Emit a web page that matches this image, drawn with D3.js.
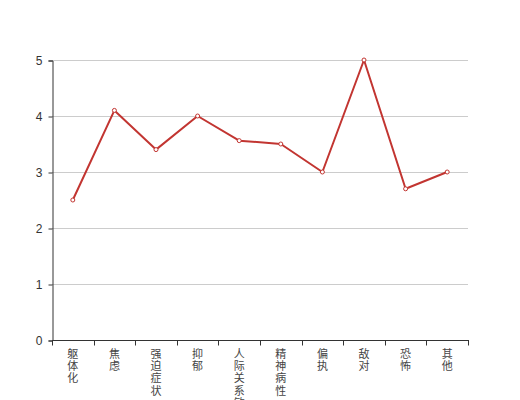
<!DOCTYPE html>
<html>
<head>
<meta charset="utf-8">
<script src="https://cdn.jsdelivr.net/npm/d3@7"></script>
<style>
  body { margin: 0; background: #fff; }
  text { font-family: "Noto Sans CJK SC", "Liberation Sans", sans-serif; }
</style>
</head>
<body>
<div id="chart"></div>
<script>
var categories = ["躯体化", "焦虑", "强迫症状", "抑郁", "人际关系敏感", "精神病性", "偏执", "敌对", "恐怖", "其他"];
var values = [2.5, 4.1, 3.4, 4.0, 3.56, 3.5, 3.0, 5.0, 2.7, 3.0];
var yTicks = [0, 1, 2, 3, 4, 5];

var width = 520, height = 400;
var gLeft = 52, gRight = 468, gTop = 60, gBottom = 340;

var svg = d3.select("#chart").append("svg")
  .attr("width", width)
  .attr("height", height);

var x = d3.scaleBand().domain(categories).range([gLeft, gRight]);
var y = d3.scaleLinear().domain([0, 5]).range([gBottom, gTop]);

// grid lines
svg.append("g")
  .selectAll("line")
  .data(yTicks.slice(1))
  .enter().append("line")
  .attr("x1", gLeft).attr("x2", gRight)
  .attr("y1", function(d) { return y(d) + 0.5; })
  .attr("y2", function(d) { return y(d) + 0.5; })
  .attr("stroke", "#ccc")
  .attr("stroke-width", 1);

// y axis
var yAxis = svg.append("g")
  .attr("transform", "translate(" + (gLeft + 0.5) + ",0.5)")
  .call(d3.axisLeft(y).tickValues(yTicks).tickFormat(d3.format("d")).tickSize(4).tickPadding(6));
yAxis.select(".domain").attr("stroke", "#333");
yAxis.selectAll(".tick line").attr("stroke", "#333");
yAxis.selectAll("text").attr("fill", "#333").style("font-size", "12px")
  .style("font-family", "'Liberation Sans', sans-serif");

// x axis
var xAxis = svg.append("g")
  .attr("transform", "translate(0," + (gBottom + 0.5) + ")");
xAxis.append("line")
  .attr("x1", gLeft).attr("x2", gRight + 1)
  .attr("stroke", "#333");
var bounds = categories.map(function(c) { return x(c); }).concat([gRight]);
xAxis.selectAll("line.tk")
  .data(bounds)
  .enter().append("line")
  .attr("class", "tk")
  .attr("x1", function(d) { return Math.round(d) + 0.5; })
  .attr("x2", function(d) { return Math.round(d) + 0.5; })
  .attr("y1", 0).attr("y2", 5)
  .attr("stroke", "#333");

// vertical labels, one character per line
categories.forEach(function(c) {
  c.split("").forEach(function(ch, i) {
    xAxis.append("text")
      .attr("x", x(c) + x.bandwidth() / 2)
      .attr("y", 17.5 + i * 12.2)
      .attr("fill", "#444")
      .attr("text-anchor", "middle")
      .style("font-size", "11px")
      .text(ch);
  });
});

// line
var line = d3.line()
  .x(function(d, i) { return x(categories[i]) + x.bandwidth() / 2; })
  .y(function(d) { return y(d); });

svg.append("path")
  .datum(values)
  .attr("d", line)
  .attr("fill", "none")
  .attr("stroke", "#c23531")
  .attr("stroke-width", 2)
  .attr("stroke-linejoin", "round");

svg.append("g")
  .selectAll("circle")
  .data(values)
  .enter().append("circle")
  .attr("cx", function(d, i) { return x(categories[i]) + x.bandwidth() / 2; })
  .attr("cy", function(d) { return y(d); })
  .attr("r", 2)
  .attr("fill", "#fff")
  .attr("stroke", "#c23531")
  .attr("stroke-width", 1);
</script>
</body>
</html>
